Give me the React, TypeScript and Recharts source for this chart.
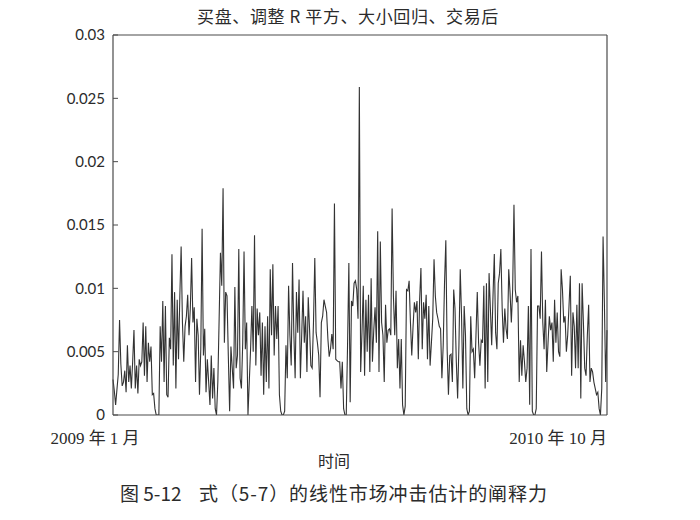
import React from 'react';
import { LineChart, Line, XAxis, YAxis, ReferenceLine } from 'recharts';

// Explanatory power (R²) of the linear market impact estimate, buy side, daily, 2009-01 .. 2010-10
const explanatoryPower = [
  0.0028, 0.0019, 0.0008, 0.0020, 0.0032, 0.0075, 0.0040, 0.0023, 0.0026, 0.0035,
  0.0018, 0.0055, 0.0026, 0.0039, 0.0021, 0.0042, 0.0067, 0.0021, 0.0039, 0.0017,
  0.0044, 0.0039, 0.0042, 0.0073, 0.0031, 0.0070, 0.0026, 0.0057, 0.0042, 0.0054,
  0.0016, 0.0017, 0.0005, 0.0000, 0.0000, 0.0000, 0.0070, 0.0042, 0.0090, 0.0026,
  0.0086, 0.0016, 0.0014, 0.0061, 0.0052, 0.0127, 0.0039, 0.0097, 0.0021, 0.0091,
  0.0044, 0.0094, 0.0133, 0.0073, 0.0042, 0.0070, 0.0078, 0.0095, 0.0063, 0.0084,
  0.0124, 0.0073, 0.0085, 0.0026, 0.0076, 0.0063, 0.0016, 0.0052, 0.0147, 0.0047,
  0.0068, 0.0018, 0.0044, 0.0026, 0.0008, 0.0047, 0.0013, 0.0037, 0.0005, 0.0000,
  0.0026, 0.0076, 0.0128, 0.0102, 0.0179, 0.0057, 0.0097, 0.0094, 0.0047, 0.0003,
  0.0054, 0.0037, 0.0021, 0.0101, 0.0037, 0.0047, 0.0131, 0.0029, 0.0021, 0.0057,
  0.0129, 0.0052, 0.0073, 0.0000, 0.0026, 0.0052, 0.0086, 0.0050, 0.0142, 0.0039,
  0.0084, 0.0063, 0.0081, 0.0031, 0.0073, 0.0016, 0.0070, 0.0026, 0.0078, 0.0021,
  0.0115, 0.0063, 0.0119, 0.0047, 0.0086, 0.0060, 0.0086, 0.0016, 0.0003, 0.0000,
  0.0000, 0.0003, 0.0055, 0.0029, 0.0102, 0.0063, 0.0039, 0.0120, 0.0065, 0.0029,
  0.0097, 0.0065, 0.0107, 0.0029, 0.0063, 0.0098, 0.0057, 0.0078, 0.0034, 0.0093,
  0.0068, 0.0039, 0.0037, 0.0073, 0.0124, 0.0065, 0.0057, 0.0047, 0.0014, 0.0073,
  0.0078, 0.0091, 0.0086, 0.0081, 0.0060, 0.0046, 0.0052, 0.0064, 0.0052, 0.0167,
  0.0044, 0.0043, 0.0042, 0.0042, 0.0021, 0.0042, 0.0005, 0.0000, 0.0000,
  0.0055, 0.0120, 0.0010, 0.0090, 0.0086, 0.0104, 0.0106, 0.0099, 0.0076, 0.0259,
  0.0034, 0.0065, 0.0102, 0.0031, 0.0091, 0.0050, 0.0095, 0.0034, 0.0108, 0.0042,
  0.0067, 0.0085, 0.0057, 0.0145, 0.0034, 0.0137, 0.0073, 0.0063, 0.0026, 0.0087,
  0.0057, 0.0067, 0.0068, 0.0063, 0.0163, 0.0094, 0.0063, 0.0098, 0.0037, 0.0060,
  0.0021, 0.0060, 0.0008, 0.0000, 0.0007, 0.0099, 0.0098, 0.0106, 0.0073, 0.0047,
  0.0070, 0.0089, 0.0081, 0.0090, 0.0044, 0.0091, 0.0116, 0.0052, 0.0089, 0.0076,
  0.0095, 0.0044, 0.0086, 0.0039, 0.0057, 0.0076, 0.0123, 0.0094, 0.0081, 0.0076,
  0.0070, 0.0068, 0.0029, 0.0055, 0.0104, 0.0138, 0.0052, 0.0016, 0.0047, 0.0048,
  0.0026, 0.0099, 0.0084, 0.0042, 0.0013, 0.0055, 0.0115, 0.0078, 0.0021, 0.0086,
  0.0063, 0.0005, 0.0000, 0.0003, 0.0078, 0.0050, 0.0052, 0.0029, 0.0063, 0.0097,
  0.0057, 0.0039, 0.0059, 0.0057, 0.0102, 0.0021, 0.0104, 0.0026, 0.0112, 0.0084,
  0.0055, 0.0094, 0.0127, 0.0065, 0.0052, 0.0104, 0.0112, 0.0131, 0.0084, 0.0057,
  0.0084, 0.0068, 0.0060, 0.0115, 0.0097, 0.0073, 0.0099, 0.0166, 0.0099, 0.0089,
  0.0094, 0.0026, 0.0059, 0.0031, 0.0055, 0.0042, 0.0026, 0.0037, 0.0086, 0.0008,
  0.0131, 0.0003, 0.0000, 0.0000, 0.0005, 0.0086, 0.0086, 0.0076, 0.0129, 0.0073,
  0.0052, 0.0091, 0.0034, 0.0057, 0.0078, 0.0067, 0.0073, 0.0042, 0.0091, 0.0057,
  0.0081, 0.0050, 0.0046, 0.0115, 0.0099, 0.0073, 0.0078, 0.0050, 0.0063, 0.0086,
  0.0110, 0.0031, 0.0081, 0.0070, 0.0037, 0.0087, 0.0037, 0.0104, 0.0013, 0.0104,
  0.0073, 0.0037, 0.0031, 0.0063, 0.0087, 0.0026, 0.0037, 0.0034, 0.0026, 0.0021,
  0.0016, 0.0018, 0.0005, 0.0000, 0.0021, 0.0141, 0.0089, 0.0026, 0.0067,
];

const dateLabels = ['2009 年 1 月', '2010 年 10 月'];
const yTicks = [0, 0.005, 0.01, 0.015, 0.02, 0.025, 0.03];
const yTickLabels = ['0', '0.005', '0.01', '0.015', '0.02', '0.025', '0.03'];

const titleText = '买盘、调整 R 平方、大小回归、交易后';
const xAxisTitle = '时间';
const captionHead = '图 5-12';
const captionBody = '式（5-7）的线性市场冲击估计的阐释力';

const data = explanatoryPower.map((v, i) => ({ i, v }));
const lastIndex = explanatoryPower.length - 1;

const ink = '#2b2b2b';
const frame = '#4a4a4a';
const serif = '"Liberation Serif", "Noto Sans CJK SC", serif';
const cjk = '"Noto Sans CJK SC", "Liberation Serif", sans-serif';

const DateTick = (props: any) => {
  const { x, y, payload } = props;
  const isFirst = payload.value === 0;
  return (
    <text
      x={isFirst ? x - 18 : x}
      y={y + 21}
      textAnchor={isFirst ? 'middle' : 'end'}
      fontFamily={serif}
      fontSize={17}
      fill={ink}
    >
      {isFirst ? dateLabels[0] : dateLabels[1]}
    </text>
  );
};

const yFmt = (v: number) => {
  const k = yTicks.findIndex((t) => Math.abs(t - v) < 1e-9);
  return k >= 0 ? yTickLabels[k] : String(v);
};

export default function App() {
  return (
    <div style={{ position: 'absolute', left: 0, top: 0, width: 700, height: 520, background: '#fff' }}>
      <div
        style={{
          position: 'absolute', left: 0, width: 696, top: 3, textAlign: 'center',
          fontFamily: cjk, fontSize: 17, letterSpacing: 0.6, color: ink,
        }}
      >
        {titleText}
      </div>
      <LineChart
        width={700}
        height={520}
        data={data}
        margin={{ top: 35, right: 83, bottom: 75, left: 53 }}
      >
        <XAxis
          dataKey="i"
          type="number"
          domain={[0, lastIndex]}
          ticks={[0, lastIndex]}
          tickLine={false}
          tick={<DateTick />}
          axisLine={{ stroke: frame, strokeWidth: 1.2 }}
          height={30}
          interval={0}
        />
        <YAxis
          yAxisId="left"
          domain={[0, 0.03]}
          ticks={yTicks}
          tickFormatter={yFmt}
          width={60}
          tickSize={-5}
          tickMargin={13}
          tickLine={{ stroke: frame }}
          axisLine={{ stroke: frame, strokeWidth: 1.2 }}
          tick={{ fill: ink, fontSize: 15, fontFamily: 'Lato, "Open Sans", sans-serif' }}
          allowDataOverflow
        />
        <YAxis
          yAxisId="right"
          orientation="right"
          domain={[0, 0.03]}
          ticks={yTicks}
          tickFormatter={() => ''}
          width={10}
          tickSize={-5}
          tickLine={{ stroke: frame }}
          axisLine={{ stroke: frame, strokeWidth: 1.2 }}
        />
        <ReferenceLine yAxisId="left" y={0.03} stroke={frame} strokeWidth={1.2} ifOverflow="extendDomain" />
        <Line
          yAxisId="left"
          type="linear"
          dataKey="v"
          stroke="#333"
          strokeWidth={1.1}
          dot={false}
          isAnimationActive={false}
        />
      </LineChart>
      <div
        style={{
          position: 'absolute', left: 318, top: 448, fontFamily: cjk, fontSize: 16, color: ink,
        }}
      >
        {xAxisTitle}
      </div>
      <div
        style={{
          position: 'absolute', left: 120, top: 479, fontFamily: cjk, fontSize: 19, color: ink,
          whiteSpace: 'nowrap',
        }}
      >
        {captionHead}
      </div>
      <div
        style={{
          position: 'absolute', left: 199, top: 479, fontFamily: cjk, fontSize: 19, letterSpacing: 0.9,
          color: ink, whiteSpace: 'nowrap',
        }}
      >
        {captionBody}
      </div>
    </div>
  );
}
